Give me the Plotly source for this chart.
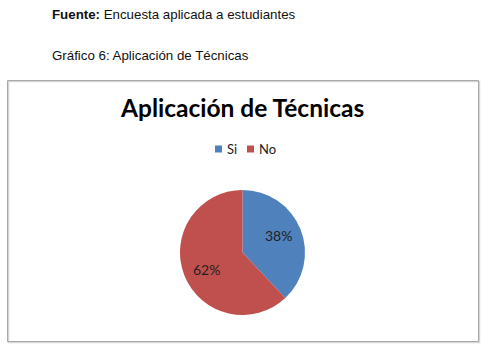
import math
import plotly.graph_objects as go

W, H = 489, 346
categories = ["Si", "No"]
values = [38, 62]
colors = ["#4F81BD", "#C0504D"]

def px_x(x):
    return x / W

def px_y(y):
    return 1 - y / H

# pie geometry in pixels
CX, CY, R = 242.5, 252.5, 62.5

fig = go.Figure()
fig.add_trace(go.Pie(
    labels=categories,
    values=values,
    marker=dict(colors=colors, line=dict(color="white", width=0)),
    sort=False,
    direction="clockwise",
    rotation=0,
    textinfo="none",
    domain=dict(x=[px_x(CX - R), px_x(CX + R)], y=[px_y(CY + R), px_y(CY - R)]),
    hoverinfo="label+percent",
    showlegend=False,
))

annotations = [
    dict(text="<b>Fuente:</b> Encuesta aplicada a estudiantes",
         x=px_x(50), y=px_y(15), xref="paper", yref="paper",
         xanchor="left", yanchor="middle", showarrow=False,
         font=dict(family="Liberation Sans, Arial, sans-serif", size=13.3, color="#111111")),
    dict(text="Gráfico 6: Aplicación de Técnicas",
         x=px_x(50), y=px_y(55), xref="paper", yref="paper",
         xanchor="left", yanchor="middle", showarrow=False,
         font=dict(family="Liberation Sans, Arial, sans-serif", size=13.3, color="#111111")),
    dict(text="<b>Aplicación de Técnicas</b>",
         x=px_x(242), y=px_y(108), xref="paper", yref="paper",
         xanchor="center", yanchor="middle", showarrow=False,
         font=dict(family="Lato, Open Sans, sans-serif", size=24.5, color="#000000")),
]

# percentage labels at slice mid-angles
total = sum(values)
cum = 0
for v in values:
    mid = (cum + v / 2) / total * 2 * math.pi - math.radians(4)
    cum += v
    lx = CX + 0.63 * R * math.sin(mid)
    ly = CY - 0.63 * R * math.cos(mid)
    annotations.append(dict(
        text=f"{round(v / total * 100)}%", x=px_x(lx), y=px_y(ly),
        xref="paper", yref="paper", xanchor="center", yanchor="middle",
        showarrow=False,
        font=dict(family="Lato, Open Sans, sans-serif", size=14, color="#1F1F1F")))

# compact legend (square + label), centred
shapes = [
    dict(type="rect", xref="paper", yref="paper",
         x0=px_x(8.5), x1=px_x(479.5), y0=px_y(342.5), y1=px_y(81.5),
         line=dict(color="#D6D6D6", width=1.5)),
    dict(type="rect", xref="paper", yref="paper",
         x0=px_x(7.5), x1=px_x(478.5), y0=px_y(341.5), y1=px_y(80.5),
         line=dict(color="#A8A8A8", width=1)),
]
leg_x = [215, 247]
LY = 149
for i, (c, col) in enumerate(zip(categories, colors)):
    x0 = leg_x[i]
    shapes.append(dict(type="rect", xref="paper", yref="paper",
                       x0=px_x(x0), x1=px_x(x0 + 7), y0=px_y(LY + 3.5), y1=px_y(LY - 3.5),
                       fillcolor=col, line=dict(width=0)))
    annotations.append(dict(text=c, x=px_x(x0 + 10), y=px_y(LY), xref="paper", yref="paper",
                            xanchor="left", yanchor="middle", showarrow=False,
                            font=dict(family="Lato, Open Sans, sans-serif", size=13, color="#222222")))

fig.update_layout(
    width=W, height=H,
    margin=dict(l=0, r=0, t=0, b=0),
    paper_bgcolor="white",
    plot_bgcolor="white",
    showlegend=False,
    shapes=shapes,
    annotations=annotations,
)

fig.write_html("out.html")
